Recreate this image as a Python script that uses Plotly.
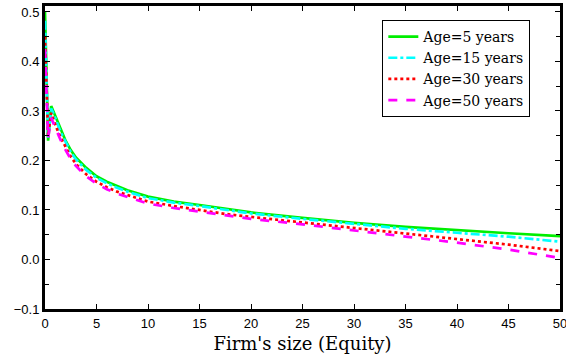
import plotly.graph_objects as go

# Firm size (equity) grid
size = [0, 0.3, 0.6, 1.0, 1.5, 2.0, 2.5, 3.0, 4.0, 5.0, 6.0, 7.0, 8.0, 10.0,
        12.5, 15.0, 17.5, 20.0, 25.0, 30.0, 35.0, 40.0, 45.0, 50.0]

# Curves by firm age
age5 = [0.500, 0.240, 0.310, 0.290, 0.262, 0.240, 0.221, 0.206, 0.185, 0.168,
        0.157, 0.148, 0.140, 0.127, 0.117, 0.110, 0.102, 0.095, 0.084, 0.074,
        0.066, 0.059, 0.053, 0.047]
age15 = [0.482, 0.245, 0.305, 0.286, 0.258, 0.236, 0.217, 0.202, 0.181, 0.165,
         0.154, 0.145, 0.137, 0.124, 0.115, 0.108, 0.100, 0.093, 0.082, 0.072,
         0.062, 0.054, 0.046, 0.036]
age30 = [0.450, 0.250, 0.296, 0.272, 0.247, 0.226, 0.208, 0.193, 0.172, 0.157,
         0.146, 0.137, 0.130, 0.117, 0.108, 0.100, 0.092, 0.086, 0.075, 0.064,
         0.053, 0.042, 0.030, 0.017]
age50 = [0.425, 0.245, 0.286, 0.266, 0.242, 0.221, 0.203, 0.189, 0.168, 0.153,
         0.142, 0.133, 0.126, 0.113, 0.104, 0.097, 0.089, 0.082, 0.071, 0.059,
         0.047, 0.034, 0.020, 0.003]

names = ["Age=5 years", "Age=15 years", "Age=30 years", "Age=50 years"]
colors = ["#00ee00", "#00ffff", "#ff0000", "#ff00ff"]
dashes = ["solid", "dashdot", "dot", "dash"]
series = [age5, age15, age30, age50]

fig = go.Figure()
for name, ys, c, d in zip(names, series, colors, dashes):
    fig.add_trace(go.Scatter(x=size, y=ys, mode="lines", name=name,
                             line=dict(color=c, width=2.7, dash=d)))

fig.update_layout(
    width=566, height=360,
    margin=dict(l=45, r=6, t=6, b=51),
    paper_bgcolor="white", plot_bgcolor="white",
    showlegend=True,
    legend=dict(x=0.655, y=0.954, xanchor="left", yanchor="top",
                bgcolor="white", bordercolor="black", borderwidth=1,
                font=dict(family="DejaVu Serif", size=14, color="black"),
                tracegroupgap=0, itemwidth=30),
    xaxis=dict(range=[0, 50], tickvals=[0, 5, 10, 15, 20, 25, 30, 35, 40, 45, 50],
               automargin=False, ticklabeloverflow="allow",
               ticks="inside", ticklen=5, tickcolor="black", showgrid=False,
               zeroline=False, showline=True, linecolor="black", linewidth=3,
               mirror="ticks",
               tickfont=dict(family="Liberation Sans", size=13, color="black"),
               title=dict(text="Firm's size (Equity)", standoff=8,
                          font=dict(family="DejaVu Serif", size=18, color="black"))),
    yaxis=dict(range=[-0.1, 0.512], tickvals=[-0.1, 0.0, 0.1, 0.2, 0.3, 0.4, 0.5],
               ticktext=["\u22120.1", "0.0", "0.1", "0.2", "0.3", "0.4", "0.5"],
               automargin=False, ticklabeloverflow="allow",
               ticks="inside", ticklen=5, tickcolor="black", showgrid=False,
               zeroline=False, showline=True, linecolor="black", linewidth=3,
               mirror="ticks",
               minor=dict(dtick=0.05, tick0=0, ticks="inside", ticklen=4,
                          tickcolor="black"),
               tickfont=dict(family="Liberation Sans", size=13, color="black")),
)

fig.write_html("out.html")
